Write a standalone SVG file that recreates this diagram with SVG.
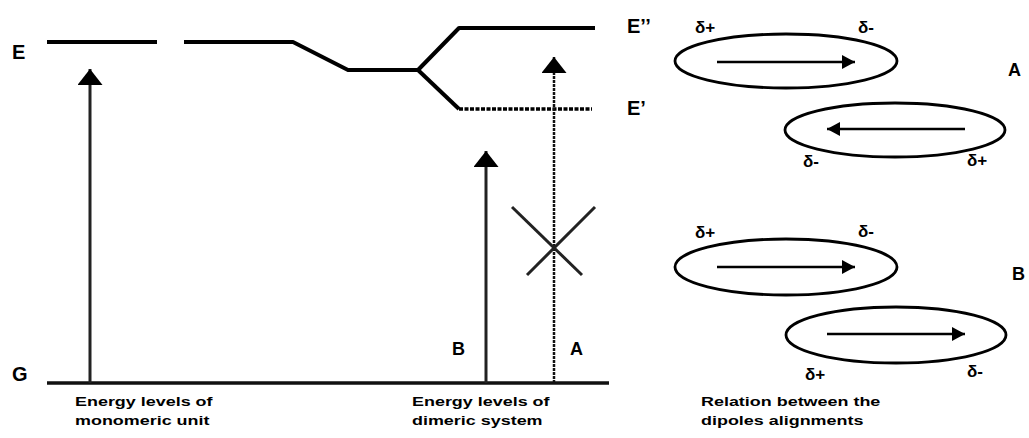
<svg xmlns="http://www.w3.org/2000/svg" width="1029" height="438" viewBox="0 0 1029 438">
<defs>
<style>
.lvl{fill:none;stroke:#000;stroke-width:4;stroke-linejoin:round}
.dot{fill:none;stroke:#000;stroke-width:3.5;stroke-dasharray:4 1.5}
.base{fill:none;stroke:#111;stroke-width:3.5}
.shaft{fill:none;stroke:#222;stroke-width:3}
.vdot{fill:none;stroke:#111;stroke-width:2.5;stroke-dasharray:3 1}
.cross{fill:none;stroke:#222;stroke-width:3}
.ell{fill:#fff;stroke:#000;stroke-width:2.8}
.dip{fill:none;stroke:#000;stroke-width:2.5}
.big{font-family:"Liberation Sans",Arial,sans-serif;font-weight:bold;font-size:20px;fill:#000}
.lab{font-family:"Liberation Sans",Arial,sans-serif;font-weight:bold;font-size:18px;fill:#000}
.del{font-family:"Liberation Sans",Arial,sans-serif;font-weight:bold;font-size:17px;fill:#000}
.cap{font-family:"Liberation Sans",Arial,sans-serif;font-weight:bold;font-size:13px;fill:#000}
</style>
<marker id="bighead" markerUnits="userSpaceOnUse" viewBox="0 0 16 25" markerWidth="16" markerHeight="25" refX="16" refY="12.5" orient="auto">
<path d="M0,0 L16,12.5 L0,25 Z" fill="#000"/>
</marker>
<marker id="smallhead" markerUnits="userSpaceOnUse" viewBox="0 0 13 14" markerWidth="13" markerHeight="14" refX="13" refY="7" orient="auto">
<path d="M0,0 L13,7 L0,14 Z" fill="#000"/>
</marker>
</defs>
<rect width="1029" height="438" fill="#fff"/>

<g id="axis-labels">
<text class="big" x="12" y="59">E</text>
<text class="big" x="12" y="381">G</text>
<text class="big" x="627" y="33">E’’</text>
<text class="big" x="627" y="115">E’</text>
<text class="lab" x="452" y="355">B</text>
<text class="lab" x="570" y="355">A</text>
</g>

<g id="monomer-levels">
<line class="lvl" x1="47" y1="42" x2="157" y2="42"/>
<line class="base" x1="47" y1="383" x2="609" y2="383"/>
</g>

<g id="dimer-levels">
<polyline class="lvl" points="184,42 293,42 348,70 418,70 459,28 595,28"/>
<polyline class="lvl" points="418,70 459,109"/>
<line class="dot" x1="459" y1="109" x2="592" y2="109"/>
</g>

<g id="connectors">
<line class="shaft" x1="90" y1="383" x2="90" y2="69" marker-end="url(#bighead)"/>
<line class="shaft" x1="486" y1="383" x2="486" y2="151" marker-end="url(#bighead)"/>
<line class="vdot" x1="554" y1="383" x2="554" y2="57" marker-end="url(#bighead)"/>
<line class="cross" x1="512" y1="207" x2="582" y2="275"/>
<line class="cross" x1="595" y1="207" x2="527" y2="275"/>
</g>

<g id="dipoles-A">
<ellipse class="ell" cx="786" cy="61" rx="111" ry="27"/>
<line class="dip" x1="717" y1="62" x2="855" y2="62" marker-end="url(#smallhead)"/>
<text class="del" x="695" y="33">δ+</text>
<text class="del" x="858" y="33">δ-</text>
<ellipse class="ell" cx="895" cy="130" rx="110" ry="27"/>
<line class="dip" x1="965" y1="129" x2="827" y2="129" marker-end="url(#smallhead)"/>
<text class="del" x="803" y="167">δ-</text>
<text class="del" x="967" y="166">δ+</text>
<text class="lab" x="1008" y="76">A</text>
</g>

<g id="dipoles-B">
<ellipse class="ell" cx="786" cy="267" rx="111" ry="28"/>
<line class="dip" x1="717" y1="267" x2="855" y2="267" marker-end="url(#smallhead)"/>
<text class="del" x="695" y="238">δ+</text>
<text class="del" x="858" y="237">δ-</text>
<ellipse class="ell" cx="896" cy="335" rx="110" ry="28"/>
<line class="dip" x1="827" y1="334" x2="965" y2="334" marker-end="url(#smallhead)"/>
<text class="del" x="805" y="380">δ+</text>
<text class="del" x="967" y="377">δ-</text>
<text class="lab" x="1012" y="280">B</text>
</g>

<g id="captions">
<text class="cap" transform="translate(75,406) scale(1.38,1)">Energy levels of</text>
<text class="cap" transform="translate(75,425) scale(1.38,1)">monomeric unit</text>
<text class="cap" transform="translate(412,406) scale(1.38,1)">Energy levels of</text>
<text class="cap" transform="translate(412,425) scale(1.38,1)">dimeric system</text>
<text class="cap" transform="translate(701,406) scale(1.38,1)">Relation between the</text>
<text class="cap" transform="translate(701,425) scale(1.38,1)">dipoles alignments</text>
</g>
</svg>
